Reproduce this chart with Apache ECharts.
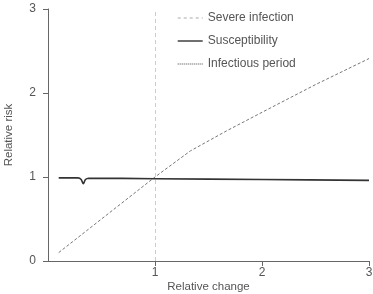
<!DOCTYPE html>
<html><head><meta charset="utf-8">
<script src="https://cdn.jsdelivr.net/npm/echarts@6/dist/echarts.min.js"></script>
<style>html,body{margin:0;padding:0;background:#fff}#c{width:373px;height:294px}</style>
</head><body><div id="c"></div>
<script>
var severeInfection = [[0.1,0.1],[0.5,0.5],[1,1],[1.33,1.31],[1.67,1.55],[2,1.77],[2.5,2.1],[3,2.41]];
var susceptibility = [[0.1,0.99],[0.28,0.99],[0.31,0.97],[0.33,0.92],[0.35,0.97],[0.38,0.985],[1,0.98],[2,0.97],[3,0.96]];
var infectiousPeriod = [];
var xTicks = [1,2,3];
var yTicks = [0,1,2,3];
var refX = 1;

var chart = echarts.init(document.getElementById('c'));
var font = 'Liberation Sans, Arial, sans-serif';
chart.setOption({
  animation:false,
  grid:{left:48,right:4,top:9,bottom:33,containLabel:false,outerBoundsMode:'none'},
  legend:{
    show:true,
    orient:'vertical', left:172, top:7, itemGap:11, itemWidth:25, itemHeight:14,
    textStyle:{fontFamily:font,fontSize:12,color:'#555'},
    itemStyle:{color:'rgba(0,0,0,0)',borderWidth:0,opacity:0},
    data:[
      {name:'Severe infection', lineStyle:{color:'#aaa',type:[3,3],width:1}},
      {name:'Susceptibility', lineStyle:{color:'#333',width:1.4}},
      {name:'Infectious period', lineStyle:{color:'#444',width:1.2,type:[1,1]}}
    ]
  },
  xAxis:{
    type:'value',min:0,max:3,interval:1,
    name:'Relative change',nameLocation:'middle',nameGap:20,nameMoveOverlap:false,
    nameTextStyle:{fontFamily:font,fontSize:11.5,color:'#555'},
    axisLine:{lineStyle:{color:'#666'}},
    axisTick:{show:true,length:5,lineStyle:{color:'#666'},customValues:xTicks},
    axisLabel:{fontFamily:font,fontSize:12,color:'#555',margin:6,customValues:xTicks},
    splitLine:{show:false}
  },
  yAxis:{
    type:'value',min:0,max:3,interval:1,
    name:'Relative risk',nameLocation:'middle',nameGap:33,nameMoveOverlap:false,
    nameTextStyle:{fontFamily:font,fontSize:11.5,color:'#555'},
    axisLine:{show:true,lineStyle:{color:'#666'}},
    axisTick:{show:true,length:5,lineStyle:{color:'#666'},customValues:yTicks},
    axisLabel:{fontFamily:font,fontSize:12,color:'#555',margin:12,customValues:yTicks},
    splitLine:{show:false}
  },
  series:[
    {name:'Severe infection',type:'line',data:severeInfection,showSymbol:false,symbol:'none',
     lineStyle:{color:'#777',width:1,type:[3,2]},itemStyle:{color:'#999'},
     markLine:{silent:true,symbol:'none',label:{show:false},
       lineStyle:{color:'#ccc',type:[4,3],width:1},data:[{xAxis:refX}]}},
    {name:'Susceptibility',type:'line',data:susceptibility,showSymbol:false,symbol:'none',smooth:0.3,
     lineStyle:{color:'#333',width:1.6},itemStyle:{color:'#333'}},
    {name:'Infectious period',type:'line',data:infectiousPeriod,showSymbol:false,symbol:'none',
     lineStyle:{color:'#555',width:1.2,type:[1,1]},itemStyle:{color:'#555'}}
  ]
});
</script></body></html>
